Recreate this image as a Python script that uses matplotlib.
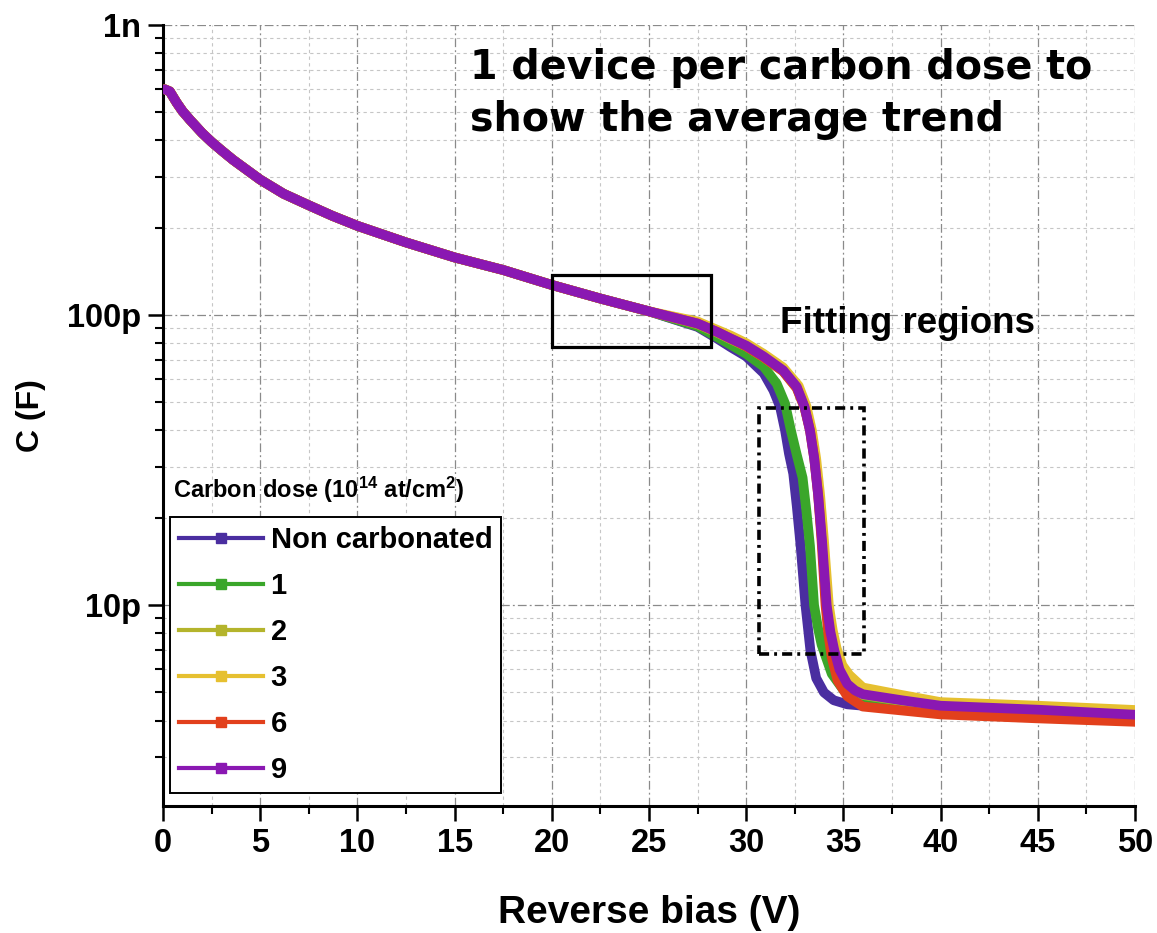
import matplotlib
matplotlib.use("Agg")
import matplotlib.pyplot as plt
from matplotlib.lines import Line2D
from matplotlib.patches import Rectangle
from matplotlib.ticker import FixedLocator, FixedFormatter, LogLocator, MultipleLocator, NullFormatter

# C-V sweeps, one device per carbon dose. All curves coincide below ~25 V.
bias_common = [0.1, 0.35, 0.7, 1.0, 1.4, 2.0, 2.5, 3.0, 3.6, 4.3, 5, 6.2, 7.5, 8.7, 10,
               12.5, 15, 17.5, 20, 22.5, 25]
cap_common = [6.0e-10, 5.9e-10, 5.4e-10, 5.05e-10, 4.7e-10, 4.25e-10, 3.95e-10, 3.7e-10,
              3.43e-10, 3.17e-10, 2.93e-10, 2.62e-10, 2.39e-10, 2.2e-10, 2.03e-10,
              1.78e-10, 1.58e-10, 1.43e-10, 1.27e-10, 1.14e-10, 1.03e-10]

bias_nc = [27.5, 28.5, 29.2, 30.0, 30.9, 31.4, 31.74, 32.0, 32.2, 32.42, 32.6, 32.8, 33.05, 33.3,
           33.6, 34.0, 34.5, 35.2, 36, 40, 45, 50]
cap_nc = [9.1e-11, 8.3e-11, 7.75e-11, 7.2e-11, 6.3e-11, 5.5e-11, 4.83e-11, 4.0e-11, 3.33e-11,
          2.84e-11, 2.2e-11, 1.6e-11, 1.0e-11, 7.0e-12, 5.6e-12, 5.0e-12, 4.7e-12, 4.55e-12,
          4.5e-12, 4.3e-12, 4.2e-12, 4.1e-12]

bias_1 = [27.5, 28.5, 29.2, 30.0, 30.9, 31.57, 32.0, 32.3, 32.6, 32.9, 33.1, 33.28, 33.49, 33.7,
          33.88, 34.4, 35, 36, 40, 45, 50]
cap_1 = [9.15e-11, 8.4e-11, 7.9e-11, 7.35e-11, 6.64e-11, 5.8e-11, 4.95e-11, 4.0e-11, 3.3e-11,
         2.75e-11, 2.1e-11, 1.6e-11, 1.0e-11, 8.3e-12, 7.3e-12, 5.8e-12, 5.1e-12, 4.75e-12,
         4.45e-12, 4.3e-12, 4.2e-12]

bias_2 = [27.5, 28.5, 29.2, 30.0, 30.9, 31.9, 32.6, 33.0, 33.3, 33.5, 33.7, 33.9, 34.12, 34.3,
          34.5, 34.8, 35.2, 36, 40, 45, 50]
cap_2 = [9.3e-11, 8.7e-11, 8.25e-11, 7.8e-11, 7.15e-11, 6.4e-11, 5.6e-11, 4.8e-11, 4.0e-11,
         3.25e-11, 2.45e-11, 1.7e-11, 1.0e-11, 8.0e-12, 6.8e-12, 5.9e-12, 5.4e-12, 4.9e-12,
         4.45e-12, 4.3e-12, 4.2e-12]

bias_3 = [27.5, 28.5, 29.2, 30.0, 30.9, 31.9, 32.7, 33.1, 33.38, 33.6, 33.8, 34.0, 34.25, 34.45,
          34.65, 34.95, 35.3, 36, 38, 40, 45, 50]
cap_3 = [9.5e-11, 8.9e-11, 8.5e-11, 8.0e-11, 7.35e-11, 6.6e-11, 5.7e-11, 4.85e-11, 4.0e-11,
         3.2e-11, 2.4e-11, 1.67e-11, 1.0e-11, 8.2e-12, 7.1e-12, 6.2e-12, 5.75e-12, 5.2e-12,
         4.9e-12, 4.63e-12, 4.5e-12, 4.35e-12]

bias_6 = [27.5, 28.5, 29.2, 30.0, 30.9, 31.9, 32.6, 33.0, 33.28, 33.5, 33.7, 33.88, 34.08, 34.22,
          34.4, 34.7, 35.2, 36, 40, 45, 50]
cap_6 = [9.35e-11, 8.75e-11, 8.3e-11, 7.8e-11, 7.15e-11, 6.4e-11, 5.6e-11, 4.8e-11, 4.0e-11,
         3.2e-11, 2.4e-11, 1.65e-11, 1.0e-11, 8.0e-12, 6.6e-12, 5.5e-12, 4.85e-12, 4.47e-12,
         4.2e-12, 4.07e-12, 3.96e-12]

bias_9 = [27.5, 28.5, 29.2, 30.0, 30.9, 31.9, 32.6, 33.0, 33.28, 33.5, 33.7, 33.9, 34.14, 34.33,
          34.53, 34.8, 35.2, 35.6, 36, 38, 40, 45, 50]
cap_9 = [9.35e-11, 8.75e-11, 8.3e-11, 7.85e-11, 7.2e-11, 6.45e-11, 5.66e-11, 4.83e-11, 4.0e-11,
         3.2e-11, 2.4e-11, 1.67e-11, 1.0e-11, 8.1e-12, 7.0e-12, 6.0e-12, 5.35e-12, 5.08e-12,
         4.93e-12, 4.7e-12, 4.5e-12, 4.36e-12, 4.19e-12]

labels = ["Non carbonated", "1", "2", "3", "6", "9"]
colors = ["#4a2ea0", "#3aa62a", "#b4b42c", "#e6c030", "#e2401c", "#8a18b2"]
tails = [(bias_nc, cap_nc), (bias_1, cap_1), (bias_2, cap_2), (bias_3, cap_3), (bias_6, cap_6), (bias_9, cap_9)]

x_ticks = [0, 5, 10, 15, 20, 25, 30, 35, 40, 45, 50]
y_ticks = [1e-11, 1e-10, 1e-9]
y_ticklabels = ["10p", "100p", "1n"]

# fitting windows: (V min, V max, C min, C max)
fit_low = (20.03, 28.19, 7.78e-11, 1.375e-10)
fit_high = (30.68, 36.06, 6.8e-12, 4.79e-11)

plt.rcParams["font.family"] = ["Liberation Sans", "DejaVu Sans"]
plt.rcParams["font.weight"] = "bold"
plt.rcParams["axes.labelweight"] = "bold"
plt.rcParams["mathtext.fontset"] = "custom"
plt.rcParams["mathtext.rm"] = "Liberation Sans:bold"
plt.rcParams["mathtext.bf"] = "Liberation Sans:bold"
plt.rcParams["mathtext.it"] = "Liberation Sans:bold"

W, H = 1157, 933
fig = plt.figure(figsize=(W / 100, H / 100), dpi=100)
ax = fig.add_axes([163 / W, 1 - 806 / H, 972 / W, 781 / H])

for lab, col, (v, c) in zip(labels, colors, tails):
    ax.plot(bias_common + v, cap_common + c, color=col, lw=7,
            solid_capstyle="round", solid_joinstyle="round", zorder=3)

ax.set_yscale("log")
ax.set_xlim(0, 50)
ax.set_ylim(2.03e-12, 1e-9)

ax.xaxis.set_major_locator(FixedLocator(x_ticks))
ax.xaxis.set_minor_locator(MultipleLocator(2.5))
ax.yaxis.set_major_locator(FixedLocator(y_ticks))
ax.yaxis.set_major_formatter(FixedFormatter(y_ticklabels))
ax.yaxis.set_minor_locator(LogLocator(base=10, subs=(2, 3, 4, 5, 6, 7, 8, 9)))
ax.yaxis.set_minor_formatter(NullFormatter())

ax.grid(which="major", color="#8a8a8a", lw=0.9, ls=(0, (7, 2.5, 1.5, 2.5)))
ax.grid(which="minor", color="#c6c6c6", lw=0.8, ls=(0, (3, 3)))
ax.set_axisbelow(True)

for side in ["top", "right"]:
    ax.spines[side].set_visible(False)
for side in ["left", "bottom"]:
    ax.spines[side].set_linewidth(2.2)

ax.tick_params(which="major", direction="out", length=11, width=1.8, labelsize=23.5, pad=5)
ax.tick_params(which="minor", direction="out", length=5.5, width=1.5)

ax.set_xlabel("Reverse bias (V)", fontsize=28, labelpad=26)
ax.set_ylabel("C (F)", fontsize=23, labelpad=15)

ax.add_patch(Rectangle((fit_low[0], fit_low[2]), fit_low[1] - fit_low[0], fit_low[3] - fit_low[2],
                       fill=False, ec="black", lw=2.3, zorder=5))
ax.add_patch(Rectangle((fit_high[0], fit_high[2]), fit_high[1] - fit_high[0], fit_high[3] - fit_high[2],
                       fill=False, ec="black", lw=2.6, ls=(0, (2.8, 1.4, 0.8, 1.4)), zorder=5))

fig.text(470 / W, 1 - 48 / H, "1 device per carbon dose to\nshow the average trend",
         fontsize=28.5, family=["DejaVu Sans"], weight="bold",
         va="top", ha="left", linespacing=1.4)
fig.text(780 / W, 1 - 333 / H, "Fitting regions", fontsize=26.5, va="baseline", ha="left")
fig.text(173 / W, 1 - 498 / H, r"Carbon dose (10$^{\mathbf{14}}$ at/cm$^{\mathbf{2}}$)",
         fontsize=17, va="baseline", ha="left")

handles = [Line2D([0], [0], color=col, lw=3, marker="s", ms=6.5, mec=col) for col in colors]
leg = ax.legend(handles, labels, loc="lower left", bbox_to_anchor=(170 / W, 1 - 793 / H),
                bbox_transform=fig.transFigure, borderaxespad=0, fontsize=21,
                frameon=True, fancybox=False, framealpha=1, edgecolor="black",
                borderpad=0.3, labelspacing=0.62, handlelength=2.9, handletextpad=0.25,
                numpoints=1)
leg.get_frame().set_linewidth(1.4)
leg.set_zorder(6)

fig.savefig("out.png", dpi=100)
